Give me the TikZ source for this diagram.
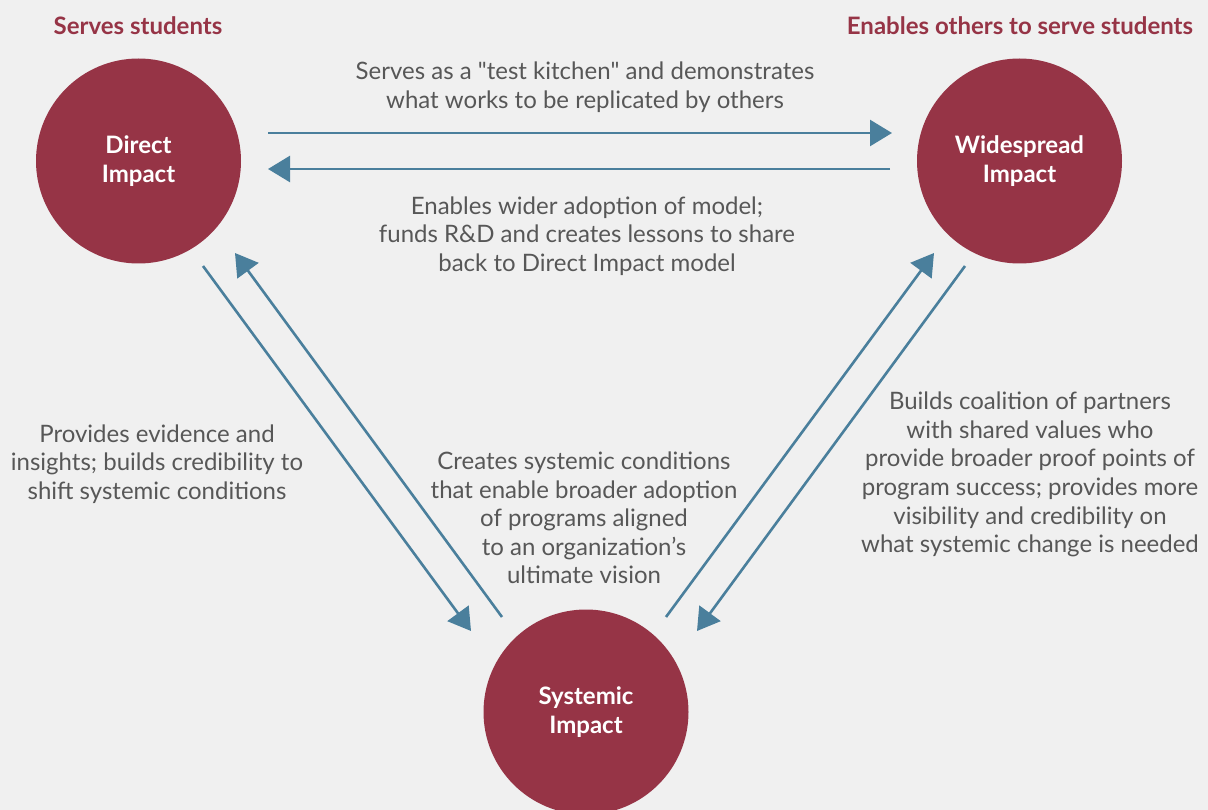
\documentclass[tikz,border=0pt]{standalone}
\usepackage{fontspec}
\setmainfont{Lato}
\usetikzlibrary{arrows.meta}
\definecolor{bgc}{HTML}{F0F0F0}
\definecolor{wine}{HTML}{963446}
\definecolor{steel}{HTML}{4A7F9C}
\definecolor{txt}{HTML}{575757}
\begin{document}
\begin{tikzpicture}[x=1pt,y=-1pt,
  impact/.style={circle,fill=wine,draw=none,minimum size=205pt,inner sep=0pt,
    text=white,font=\fontsize{24}{29}\selectfont\bfseries,align=center},
  lbl/.style={text=txt,font=\fontsize{24}{28.6}\selectfont,align=center,inner sep=0pt},
  ttl/.style={text=wine,font=\fontsize{24}{28.6}\selectfont\bfseries,inner sep=0pt},
  flow/.style={draw=steel,line width=2.6pt,-{Triangle[length=22pt,width=26pt]}}]
\fill[bgc] (0,0) rectangle (1208,810);
\useasboundingbox (0,0) rectangle (1208,810);
\begin{scope}
\clip (0,0) rectangle (1208,810);
\node[impact] (di) at (138.5,161) {Direct\\Impact};
\node[impact] (wi) at (1019.5,161) {Widespread\\Impact};
\node[impact] (si) at (586,712) {Systemic\\Impact};
\end{scope}
\node[ttl] (t1) at (138,26) {Serves students};
\node[ttl] (t2) at (1020,26) {Enables others to serve students};
% connector end points
\coordinate (a1s) at (268,133); \coordinate (a1e) at (892,133);
\coordinate (a2s) at (890,169); \coordinate (a2e) at (268,169);
\coordinate (a3s) at (203,266); \coordinate (a3e) at (471,631);
\coordinate (a4s) at (502,617); \coordinate (a4e) at (235,253);
\coordinate (a5s) at (666,617); \coordinate (a5e) at (934,253);
\coordinate (a6s) at (965,266); \coordinate (a6e) at (697,631);
\draw[flow] (a1s) -- (a1e);
\draw[flow] (a2s) -- (a2e);
\draw[flow] (a3s) -- (a3e);
\draw[flow] (a4s) -- (a4e);
\draw[flow] (a5s) -- (a5e);
\draw[flow] (a6s) -- (a6e);
\node[lbl] (l1) at (585,87.5) {Serves as a \textquotedbl test kitchen\textquotedbl{} and demonstrates\\what works to be replicated by others};
\node[lbl] (l2) at (587,236) {Enables wider adoption of model;\\funds R\&D and creates lessons to share\\back to Direct Impact model};
\node[lbl] (l3) at (157,464) {Provides evidence and\\insights; builds credibility to\\shift systemic conditions};
\node[lbl] (l4) at (584,518) {Creates systemic conditions\\that enable broader adoption\\of programs aligned\\to an organization’s\\ultimate vision};
\node[lbl] (l5) at (1030,474.5) {Builds coalition of partners\\with shared values who\\provide broader proof points of\\program success; provides more\\visibility and credibility on\\what systemic change is needed};
\end{tikzpicture}
\end{document}
